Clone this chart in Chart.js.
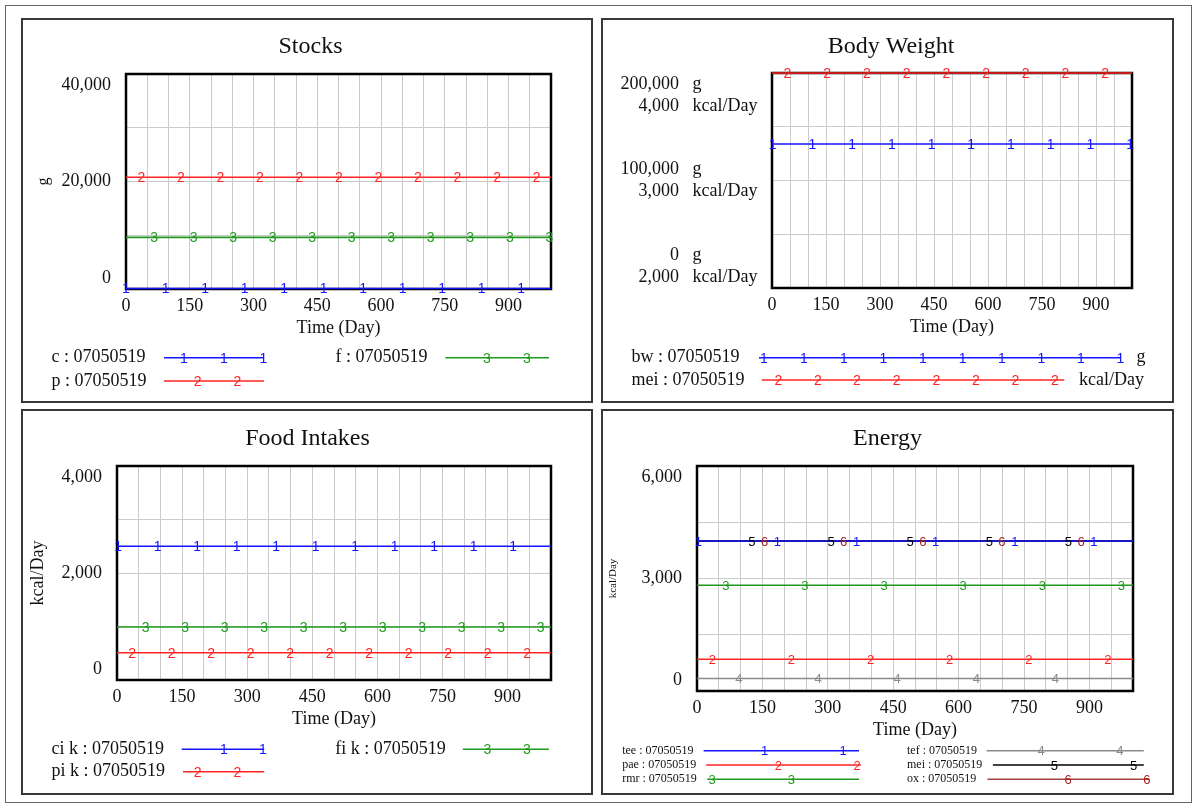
<!DOCTYPE html>
<html><head><meta charset="utf-8">
<script src="https://cdn.jsdelivr.net/npm/chart.js@4.4.1/dist/chart.umd.min.js"></script>
<style>
html,body{margin:0;padding:0;background:#fff;width:1195px;height:805px;overflow:hidden;}
#outer{position:absolute;left:5px;top:5px;width:1187px;height:798px;border:1px solid #666;box-sizing:border-box;}
.panel{position:absolute;border:2px solid #383838;box-sizing:border-box;background:#fff;}
.panel canvas{position:absolute;left:0;top:0;}
</style></head><body>
<div id="outer"></div>
<div class="panel" style="left:21px;top:18px;width:572px;height:385px"><canvas id="cStocks" width="568" height="381"></canvas></div>
<div class="panel" style="left:601px;top:18px;width:573px;height:385px"><canvas id="cBody" width="569" height="381"></canvas></div>
<div class="panel" style="left:21px;top:409px;width:572px;height:386px"><canvas id="cFood" width="568" height="382"></canvas></div>
<div class="panel" style="left:601px;top:409px;width:573px;height:386px"><canvas id="cEnergy" width="569" height="382"></canvas></div>
<script>
// ---------------- DATA ----------------
const timeDays = [0, 1000];
const xTickLabels = ['0', '150', '300', '450', '600', '750', '900'];

// Stocks (g)
const cStock = [100, 100];
const pStock = [20800, 20800];
const fStock = [9600, 9600];
const stocksYTicks = [0, 20000, 40000];
const stocksYTickLabels = ['0', '20,000', '40,000'];

// Body Weight
const bwValues = [134000, 134000];
const meiBwValues = [4000, 4000];
const bwYTicks = [0, 100000, 200000];
const bwYTickLabels = ['0', '100,000', '200,000'];
const meiYTicks = [2000, 3000, 4000];
const meiYTickLabels = ['2,000', '3,000', '4,000'];

// Food Intakes (kcal/Day)
const cikValues = [2500, 2500];
const pikValues = [510, 510];
const fikValues = [990, 990];
const foodYTicks = [0, 2000, 4000];
const foodYTickLabels = ['0', '2,000', '4,000'];

// Energy (kcal/Day)
const teeValues = [4000, 4000];
const paeValues = [845, 845];
const rmrValues = [2820, 2820];
const tefValues = [335, 335];
const meiEnValues = [4000, 4000];
const oxValues = [4000, 4000];
const energyYTicks = [0, 3000, 6000];
const energyYTickLabels = ['0', '3,000', '6,000'];

// ---------------- STYLE ----------------
const SERIF = '"Liberation Serif", "Times New Roman", serif';
const SANS = '"Liberation Sans", Arial, sans-serif';
const GRID = '#cbcbcb';
const BLUE = '#1414ff', RED = '#ff2424', GREEN = '#1f9a1f', GRAY = '#8a8a8a', BLACK = '#000000', OX = '#a84040', OXMARK = '#a02020';

function pts(vals) { return timeDays.map((t, i) => ({ x: t, y: vals[i] })); }
function valueAt(data, t) {
  for (let i = 0; i < data.length - 1; i++) {
    const a = data[i], b = data[i + 1];
    if (t >= a.x && t <= b.x) return a.y + (b.y - a.y) * (t - a.x) / (b.x - a.x);
  }
  return data[data.length - 1].y;
}

const vensimPlugin = {
  id: 'vensim',
  beforeDatasetsDraw(chart, args, o) {
    const { ctx, chartArea: a } = chart;
    ctx.save();
    ctx.strokeStyle = '#000'; ctx.lineWidth = 2.5;
    ctx.strokeRect(a.left, a.top, a.right - a.left, a.bottom - a.top);
    ctx.restore();
  },
  afterDatasetsDraw(chart, args, o) {
    const ctx = chart.ctx, xs = chart.scales.x;
    chart.data.datasets.forEach((ds, i) => {
      const m = o.markers[i]; if (!m) return;
      const ys = chart.scales[ds.yAxisID || 'y'];
      ctx.save();
      ctx.font = o.markerFont; ctx.fillStyle = m.color || ds.borderColor;
      ctx.textAlign = 'center'; ctx.textBaseline = 'middle';
      for (let t = m.offset; t <= xs.max + 0.01; t += o.markerStep) {
        ctx.fillText(m.char, xs.getPixelForValue(t), ys.getPixelForValue(valueAt(ds.data, t)) + 1);
      }
      ctx.restore();
    });
  },
  afterDraw(chart, args, o) {
    const ctx = chart.ctx, a = chart.chartArea, xs = chart.scales.x;
    const ox = o.origin.x, oy = o.origin.y;
    ctx.save();
    ctx.fillStyle = '#111';
    // y tick labels (blocks clamped inside the plot)
    ctx.font = '18px ' + SERIF; ctx.textBaseline = 'middle';
    const rows = o.yRows, lh = 22, n = rows.length, bh = n * lh;
    rows[0].values.forEach((v, k) => {
      let c = chart.scales[rows[0].axis].getPixelForValue(v);
      c = Math.min(Math.max(c, a.top + bh / 2), a.bottom - bh / 2);
      rows.forEach((r, j) => {
        const y = c - bh / 2 + lh * (j + 0.5);
        ctx.textAlign = 'right';
        ctx.fillText(r.labels[k], o.numX - ox, y);
        if (r.unit) { ctx.textAlign = 'left'; ctx.fillText(r.unit, o.unitX - ox, y); }
      });
    });
    // x tick labels
    ctx.textAlign = 'center';
    xTickLabels.forEach(l => ctx.fillText(l, xs.getPixelForValue(Number(l)), a.bottom + 17));
    // x title
    ctx.fillText('Time (Day)', (a.left + a.right) / 2, a.bottom + 39);
    // y title
    if (o.yTitle) {
      ctx.save();
      ctx.font = o.yTitle.size + 'px ' + SERIF;
      ctx.translate(o.yTitle.x - ox, (a.top + a.bottom) / 2);
      ctx.rotate(-Math.PI / 2);
      ctx.textAlign = 'center'; ctx.textBaseline = 'middle';
      ctx.fillText(o.yTitle.text, 0, 0);
      ctx.restore();
    }
    // legend
    o.legend.forEach(it => {
      const ds = chart.data.datasets[it.ds], mk = o.markers[it.ds];
      const y = it.y - oy;
      ctx.font = o.legendFont; ctx.fillStyle = '#111';
      ctx.textAlign = 'left'; ctx.textBaseline = 'middle';
      ctx.fillText(ds.label, it.tx - ox, y);
      if (it.unit) ctx.fillText(it.unit, it.ux - ox, y);
      ctx.strokeStyle = ds.borderColor; ctx.lineWidth = 1.5;
      ctx.beginPath(); ctx.moveTo(it.x1 - ox, y); ctx.lineTo(it.x2 - ox, y); ctx.stroke();
      ctx.font = o.legendMarkerFont; ctx.fillStyle = mk.color || ds.borderColor; ctx.textAlign = 'center';
      it.m.forEach(mx => ctx.fillText(mk.char, mx - ox, y + 1));
    });
    ctx.restore();
  }
};

function makeChart(id, spec) {
  const canvas = document.getElementById(id);
  const W = canvas.width, H = canvas.height, o = spec.origin;
  const L = spec.plot.left - o.x, R = spec.plot.right - o.x, T = spec.plot.top - o.y, B = spec.plot.bottom - o.y;
  const tTop = spec.titleY - o.y - 14.4, tBottom = T - tTop - 28.8;
  const scales = {
    x: { type: 'linear', position: 'bottom', min: 0, max: 1000,
      ticks: { display: false, stepSize: 50 }, grid: { color: GRID, lineWidth: 1, drawTicks: false },
      border: { display: false }, afterFit(s) { s.height = H - B; } },
    y: { type: 'linear', position: 'left', min: spec.y.min, max: spec.y.max,
      ticks: { display: false, stepSize: spec.y.step }, grid: { color: GRID, lineWidth: 1, drawTicks: false },
      border: { display: false }, afterFit(s) { s.width = L - spec.padLeft; } },
    yR: { type: 'linear', position: 'right', grid: { display: false }, ticks: { display: false },
      border: { display: false }, afterFit(s) { s.width = W - R; } }
  };
  if (spec.y2) {
    scales.y2 = { type: 'linear', position: 'left', min: spec.y2.min, max: spec.y2.max,
      grid: { display: false }, ticks: { display: false }, border: { display: false },
      afterFit(s) { s.width = 0; } };
  }
  return new Chart(canvas, {
    type: 'line',
    data: { datasets: spec.datasets.map(d => ({
      label: d.label, data: pts(d.values), yAxisID: d.axis || 'y', borderColor: d.color,
      borderWidth: 1.6, pointRadius: 0, fill: false, tension: 0, clip: 6 })) },
    options: {
      responsive: false, animation: false, devicePixelRatio: 1, events: [],
      layout: { padding: { left: spec.padLeft, right: 0, top: 0, bottom: 0 } },
      scales,
      plugins: {
        legend: { display: false }, tooltip: { enabled: false },
        title: { display: true, text: spec.title, color: '#111',
          font: { family: SERIF, size: 24, weight: 'normal', lineHeight: 1.2 },
          padding: { top: tTop, bottom: tBottom } },
        vensim: {
          origin: o, yRows: spec.yRows, numX: spec.numX, unitX: spec.unitX, yTitle: spec.yTitle,
          markers: spec.datasets.map(d => ({ char: d.mark, offset: d.offset, color: d.markColor })),
          markerStep: spec.markerStep, markerFont: spec.markerFont,
          legend: spec.legend, legendFont: spec.legendFont, legendMarkerFont: spec.legendMarkerFont
        }
      }
    },
    plugins: [vensimPlugin]
  });
}

// ---------------- CHARTS ----------------
makeChart('cStocks', {
  title: 'Stocks', origin: { x: 23, y: 20 }, plot: { left: 126, right: 551, top: 74, bottom: 289 },
  titleY: 46.7, padLeft: 7, y: { min: 0, max: 40000, step: 10000 },
  yRows: [{ axis: 'y', values: stocksYTicks, labels: stocksYTickLabels }], numX: 111,
  yTitle: { text: 'g', x: 44, size: 16 },
  datasets: [
    { label: 'c : 07050519', values: cStock, color: BLUE, mark: '1', offset: 0 },
    { label: 'p : 07050519', values: pStock, color: RED, mark: '2', offset: 36 },
    { label: 'f : 07050519', values: fStock, color: GREEN, mark: '3', offset: 66 }
  ],
  markerStep: 93, markerFont: '14px ' + SANS,
  legendFont: '18px ' + SERIF, legendMarkerFont: '14px ' + SANS,
  legend: [
    { ds: 0, tx: 51.5, y: 357.7, x1: 164, x2: 264, m: [184, 224, 263.5] },
    { ds: 1, tx: 51.5, y: 381, x1: 164, x2: 264, m: [197.6, 237.5] },
    { ds: 2, tx: 335.5, y: 357.7, x1: 445.5, x2: 549, m: [487, 527] }
  ]
});

makeChart('cBody', {
  title: 'Body Weight', origin: { x: 603, y: 20 }, plot: { left: 772, right: 1132, top: 73, bottom: 288 },
  titleY: 46.7, padLeft: 7, y: { min: 0, max: 200000, step: 50000 }, y2: { min: 2000, max: 4000 },
  yRows: [{ axis: 'y', values: bwYTicks, labels: bwYTickLabels, unit: 'g' },
          { axis: 'y2', values: meiYTicks, labels: meiYTickLabels, unit: 'kcal/Day' }],
  numX: 679, unitX: 692.5,
  datasets: [
    { label: 'bw : 07050519', values: bwValues, color: BLUE, mark: '1', offset: 2 },
    { label: 'mei : 07050519', values: meiBwValues, color: RED, mark: '2', offset: 43, axis: 'y2' }
  ],
  markerStep: 110.3, markerFont: '14px ' + SANS,
  legendFont: '18px ' + SERIF, legendMarkerFont: '14px ' + SANS,
  legend: [
    { ds: 0, tx: 631.5, y: 357.7, x1: 759, x2: 1121, unit: 'g', ux: 1136.5,
      m: [764, 804, 844, 883.5, 923, 962.6, 1002, 1041.4, 1081, 1120.5] },
    { ds: 1, tx: 631.5, y: 380, x1: 761.7, x2: 1064.3, unit: 'kcal/Day', ux: 1079,
      m: [778.3, 818, 857, 896.7, 936.3, 976, 1015.5, 1055] }
  ]
});

makeChart('cFood', {
  title: 'Food Intakes', origin: { x: 23, y: 411 }, plot: { left: 117, right: 551, top: 466, bottom: 680 },
  titleY: 438.3, padLeft: 1, y: { min: 0, max: 4000, step: 1000 },
  yRows: [{ axis: 'y', values: foodYTicks, labels: foodYTickLabels }], numX: 102,
  yTitle: { text: 'kcal/Day', x: 38.5, size: 18 },
  datasets: [
    { label: 'ci k : 07050519', values: cikValues, color: BLUE, mark: '1', offset: 2.5 },
    { label: 'pi k : 07050519', values: pikValues, color: RED, mark: '2', offset: 35 },
    { label: 'fi k : 07050519', values: fikValues, color: GREEN, mark: '3', offset: 66 }
  ],
  markerStep: 91, markerFont: '14px ' + SANS,
  legendFont: '18px ' + SERIF, legendMarkerFont: '14px ' + SANS,
  legend: [
    { ds: 0, tx: 51.5, y: 749.3, x1: 181.7, x2: 264.2, m: [223.8, 263] },
    { ds: 1, tx: 51.5, y: 771.7, x1: 183, x2: 264.2, m: [197.6, 237.5] },
    { ds: 2, tx: 335.2, y: 749.3, x1: 462.8, x2: 549, m: [487.3, 527] }
  ]
});

makeChart('cEnergy', {
  title: 'Energy', origin: { x: 603, y: 411 }, plot: { left: 697, right: 1133, top: 466, bottom: 691 },
  titleY: 438.3, padLeft: 0, y: { min: 0, max: 6000, step: 1500 },
  yRows: [{ axis: 'y', values: energyYTicks, labels: energyYTickLabels }], numX: 682,
  yTitle: { text: 'kcal/Day', x: 613, size: 11 },
  datasets: [
    { label: 'tee : 07050519', values: teeValues, color: BLUE, mark: '1', offset: 3 },
    { label: 'pae : 07050519', values: paeValues, color: RED, mark: '2', offset: 35 },
    { label: 'rmr : 07050519', values: rmrValues, color: GREEN, mark: '3', offset: 66 },
    { label: 'tef : 07050519', values: tefValues, color: GRAY, mark: '4', offset: 96 },
    { label: 'mei : 07050519', values: meiEnValues, color: BLACK, mark: '5', offset: 126 },
    { label: 'ox : 07050519', values: oxValues, color: OX, mark: '6', offset: 155, markColor: OXMARK }
  ],
  markerStep: 181.5, markerFont: '13px ' + SANS,
  legendFont: '12px ' + SERIF, legendMarkerFont: '13px ' + SANS,
  legend: [
    { ds: 0, tx: 622.2, y: 750.7, x1: 703.6, x2: 859, m: [764.6, 843] },
    { ds: 1, tx: 622.2, y: 765, x1: 706.2, x2: 860.8, m: [778.3, 857.1] },
    { ds: 2, tx: 622.2, y: 779.3, x1: 707.3, x2: 859, m: [712, 791.3] },
    { ds: 3, tx: 907, y: 750.7, x1: 986.6, x2: 1143.8, m: [1041, 1119.8] },
    { ds: 4, tx: 907, y: 765, x1: 992.9, x2: 1143.8, m: [1054.3, 1133.5] },
    { ds: 5, tx: 907, y: 779.3, x1: 987.4, x2: 1149.4, m: [1068, 1146.8] }
  ]
});
</script>
</body></html>
